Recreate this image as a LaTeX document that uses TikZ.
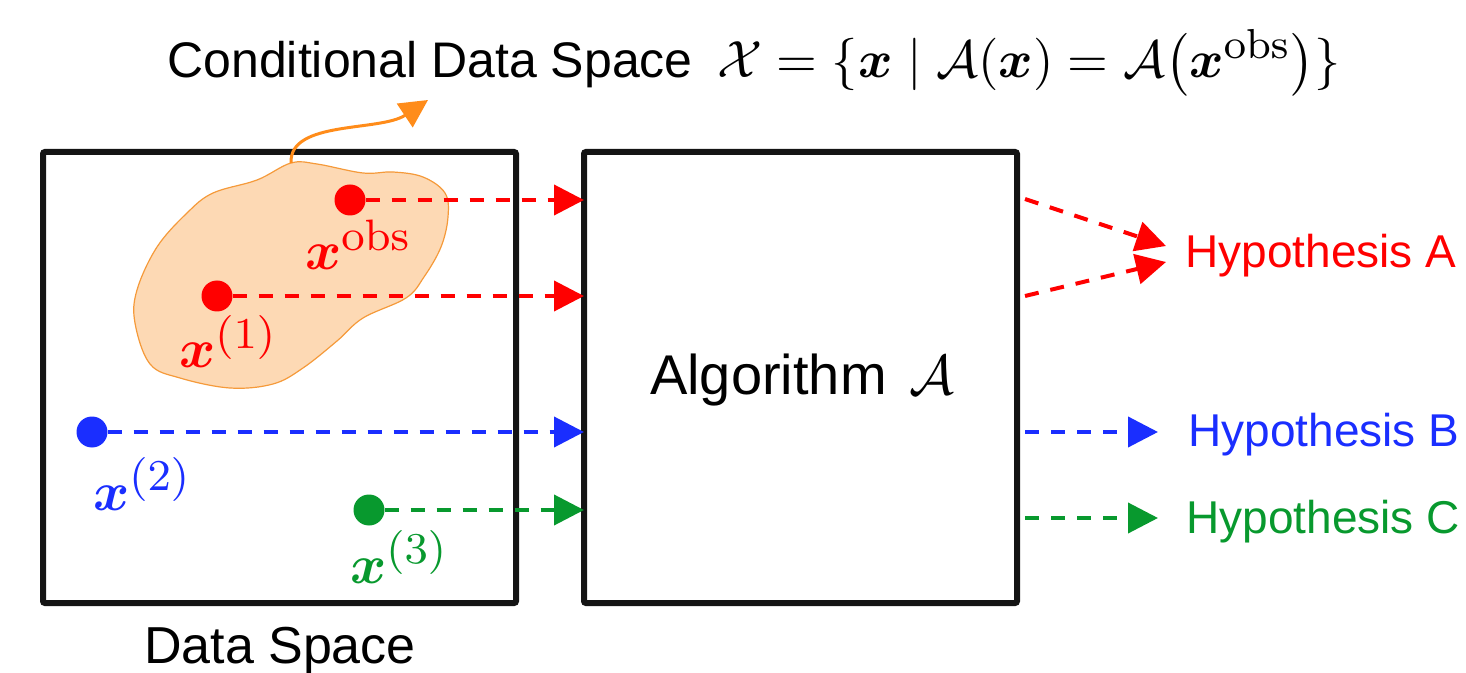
\RequirePackage{fix-cm}
\documentclass[tikz,border=0pt]{standalone}
\usepackage{amsmath,amssymb}
\usepackage[no-math]{fontspec}
\newfontfamily\sanstext{Liberation Sans}
\usetikzlibrary{arrows.meta}
\DeclareMathSizes{10}{10}{8}{6}
\definecolor{cred}{HTML}{FF0000}
\definecolor{cblue}{HTML}{1A2EFF}
\definecolor{cgreen}{HTML}{08992E}
\definecolor{corange}{HTML}{FF8C1A}
\definecolor{blobfill}{HTML}{FDD9B4}
\definecolor{blobline}{HTML}{F59A3A}
\definecolor{boxline}{HTML}{141414}
\tikzset{
  spacebox/.style={draw=boxline, line width=3pt, rounded corners=1pt, inner sep=0pt, outer sep=0pt},
  dot/.style={circle, fill=#1, minimum size=15.5pt, inner sep=0pt, outer sep=0pt},
  dasharrow/.style={draw=#1, line width=2pt, dash pattern=on 7pt off 6pt,
     -{Triangle[length=15pt,width=15pt]}},
  ptlabel/.style={text=#1, inner sep=0pt, scale=2.75, font=\fontsize{10}{12}\selectfont},
  hyp/.style={text=#1, inner sep=0pt, anchor=base west, font=\sanstext\fontsize{23}{28}\selectfont},
}
\begin{document}
\begin{tikzpicture}[x=0.5pt,y=-0.5pt]
\useasboundingbox (0,0) rectangle (1466,673);
% title
\node[anchor=base west, inner sep=0pt, font=\sanstext\fontsize{25}{30}\selectfont] (titletext) at (167,78)
  {Conditional Data Space};
\node[anchor=base west, inner sep=0pt, scale=2.62, font=\fontsize{10}{12}\selectfont] (titlemath) at (716,78)
  {$\mathcal{X} = \{\boldsymbol{x} \mid \mathcal{A}(\boldsymbol{x}) = \mathcal{A}\big(\boldsymbol{x}^{\mathrm{obs}}\big)\}$};
% boxes
\node[spacebox, minimum width=236.5pt, minimum height=225.5pt] (ds) at (279.5,377.5) {};
\node[spacebox, minimum width=216.5pt, minimum height=225.5pt] (alg) at (800.5,377.5) {};
\node[anchor=base, inner sep=0pt, font=\sanstext\fontsize{26}{31}\selectfont] (dslabel) at (280,663) {Data Space};
\node[inner sep=0pt, font=\fontsize{28}{34}\selectfont] (alglabel) at (802,380) {{\sanstext Algorithm}\hspace{0.4em}$\mathcal{A}$};
% blob
\draw[fill=blobfill, draw=blobline, line width=0.6pt] plot[smooth cycle, tension=0.6] coordinates {
 (291,163) (317,164) (363,173) (393,172) (423,177) (445,193) (448,217) (441,247)
 (424,277) (406,298) (363,318) (337,341) (303,368) (273,384) (230,388) (180,378)
 (150,364) (135,323) (137,290) (157,247) (187,213) (213,193) (257,180)};
\coordinate (blobtop) at (291,163);
\coordinate (orangetip) at (428,100);
\draw[draw=corange, line width=1.5pt, -{Triangle[length=14pt,width=14pt]}]
  (blobtop) .. controls (289,120) and (380,132) .. (orangetip);
% points
\node[dot=cred] (xobs) at (350,200) {};
\node[dot=cred] (x1) at (217,296) {};
\node[dot=cblue] (x2) at (92,432) {};
\node[dot=cgreen] (x3) at (369,510) {};
\node[ptlabel=cred, anchor=base west] (lobs) at (304,270) {$\boldsymbol{x}^{\mathrm{obs}}$};
\node[ptlabel=cred, anchor=base west] (l1) at (178,368) {$\boldsymbol{x}^{(1)}$};
\node[ptlabel=cblue, anchor=base west] (l2) at (92,510) {$\boldsymbol{x}^{(2)}$};
\node[ptlabel=cgreen, anchor=base west] (l3) at (349,583) {$\boldsymbol{x}^{(3)}$};
% arrows into algorithm
\draw[dasharrow=cred] (xobs) -- (xobs -| alg.west);
\draw[dasharrow=cred] (x1) -- (x1 -| alg.west);
\draw[dasharrow=cblue] (x2) -- (x2 -| alg.west);
\draw[dasharrow=cgreen] (x3) -- (x3 -| alg.west);
% hypotheses
\node[hyp=cred] (hA) at (1185,268) {Hypothesis A};
\node[hyp=cblue] (hB) at (1188,446) {Hypothesis B};
\node[hyp=cgreen] (hC) at (1186,533) {Hypothesis C};
\coordinate (oA1) at (1025,199);
\coordinate (oA2) at (1025,296);
\coordinate (oB) at (1025,432);
\coordinate (oC) at (1025,518);
\coordinate (tA1) at (1166,246);
\coordinate (tA2) at (1166,262);
\coordinate (tB) at (1158,432);
\coordinate (tC) at (1158,518);
\draw[dasharrow=cred] (oA1) -- (tA1);
\draw[dasharrow=cred] (oA2) -- (tA2);
\draw[dasharrow=cblue] (oB) -- (tB);
\draw[dasharrow=cgreen] (oC) -- (tC);
\end{tikzpicture}
\end{document}
